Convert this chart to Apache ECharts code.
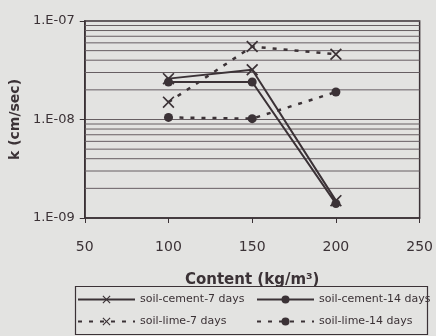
<!DOCTYPE html>
<html>
<head>
<meta charset="utf-8">
<script src="https://cdn.jsdelivr.net/npm/echarts@6/dist/echarts.min.js"></script>
<style>
  html, body { margin: 0; padding: 0; background: #e3e3e1; }
  #chart { width: 436px; height: 336px; }
</style>
</head>
<body>
<div id="chart"></div>
<script>
const contents = [100, 150, 200];
const cement7 = [2.6e-8, 3.2e-8, 1.5e-9];
const cement14 = [2.4e-8, 2.4e-8, 1.4e-9];
const lime7 = [1.5e-8, 5.5e-8, 4.6e-8];
const lime14 = [1.05e-8, 1.02e-8, 1.9e-8];
const minorLines = [2e-9, 3e-9, 4e-9, 5e-9, 6e-9, 7e-9, 8e-9, 9e-9,
  2e-8, 3e-8, 4e-8, 5e-8, 6e-8, 7e-8, 8e-8, 9e-8];
const xRange = [50, 250];
const yTickLabels = { "-9": "1.E-09", "-8": "1.E-08", "-7": "1.E-07" };

const ink = "#3b3236";
const gridInk = "#675e62";
const font = "DejaVu Sans";
const crossPath = "path://M0,1L1,0L5,4L9,0L10,1L6,5L10,9L9,10L5,6L1,10L0,9L4,5Z";

const chart = echarts.init(document.getElementById("chart"), null, { renderer: "canvas" });

function pairs(vals) {
  return contents.map((c, i) => [c, vals[i]]);
}

function lineSeries(name, vals, dashed, cross) {
  return {
    name: name,
    type: "line",
    data: pairs(vals),
    symbol: cross ? crossPath : "circle",
    symbolSize: cross ? 12 : 9,
    showSymbol: true,
    lineStyle: { color: ink, width: dashed ? 2.5 : 2, type: dashed ? [4, 7] : "solid" },
    itemStyle: { color: ink },
    z: 3,
  };
}

// minor log grid lines (2..9 in each decade), drawn as plain line series
const minorSeries = minorLines.map((v) => ({
  type: "line",
  data: xRange.map((x) => [x, v]),
  symbol: "none",
  silent: true,
  lineStyle: { color: gridInk, width: 1 },
  z: 1,
}));

const option = {
  backgroundColor: "#e3e3e1",
  animation: false,
  grid: { left: 84, right: 11, top: 21, bottom: 118, show: true, borderColor: ink, borderWidth: 1.5 },
  xAxis: {
    type: "value",
    min: xRange[0],
    max: xRange[1],
    interval: 50,
    name: "Content (kg/m\u00b3)",
    nameLocation: "middle",
    nameGap: 55,
    nameTextStyle: { fontFamily: font, fontSize: 15, fontWeight: "bold", color: ink },
    axisLine: { lineStyle: { color: ink, width: 1.5 } },
    axisTick: { show: true, length: 5, lineStyle: { color: ink } },
    axisLabel: { fontFamily: font, fontSize: 14, color: ink, margin: 22 },
    splitLine: { show: false },
  },
  yAxis: {
    type: "log",
    logBase: 10,
    min: 1e-9,
    max: 1e-7,
    name: "k (cm/sec)",
    nameLocation: "middle",
    nameGap: 57,
    nameTextStyle: { fontFamily: font, fontSize: 14, fontWeight: "bold", color: ink },
    axisLine: { show: true, lineStyle: { color: ink, width: 1.5 } },
    axisTick: { show: true, length: 5, lineStyle: { color: ink } },
    axisLabel: {
      fontFamily: font,
      fontSize: 13,
      color: ink,
      margin: 10,
      formatter: (v) => yTickLabels[String(Math.round(Math.log10(v)))] || "",
    },
    splitLine: { show: true, lineStyle: { color: gridInk, width: 1 } },
  },
  legend: [
    {
      left: 77,
      top: 294,
      padding: 0,
      orient: "vertical",
      itemWidth: 57,
      itemHeight: 10,
      itemGap: 11,
      data: ["soil-cement-7 days", "soil-lime-7 days"],
      textStyle: { fontFamily: font, fontSize: 11, color: ink },
    },
    {
      left: 256,
      top: 294,
      padding: 0,
      orient: "vertical",
      itemWidth: 57,
      itemHeight: 10,
      itemGap: 11,
      data: ["soil-cement-14 days", "soil-lime-14 days"],
      textStyle: { fontFamily: font, fontSize: 11, color: ink },
    },
  ],
  graphic: [
    {
      type: "rect",
      left: 73,
      top: 284,
      shape: { width: 352, height: 48 },
      style: { fill: "none", stroke: ink, lineWidth: 1.2 },
      silent: true,
    },
  ],
  series: [
    lineSeries("soil-cement-7 days", cement7, false, true),
    lineSeries("soil-cement-14 days", cement14, false, false),
    lineSeries("soil-lime-7 days", lime7, true, true),
    lineSeries("soil-lime-14 days", lime14, true, false),
  ].concat(minorSeries),
};

chart.setOption(option);
</script>
</body>
</html>
